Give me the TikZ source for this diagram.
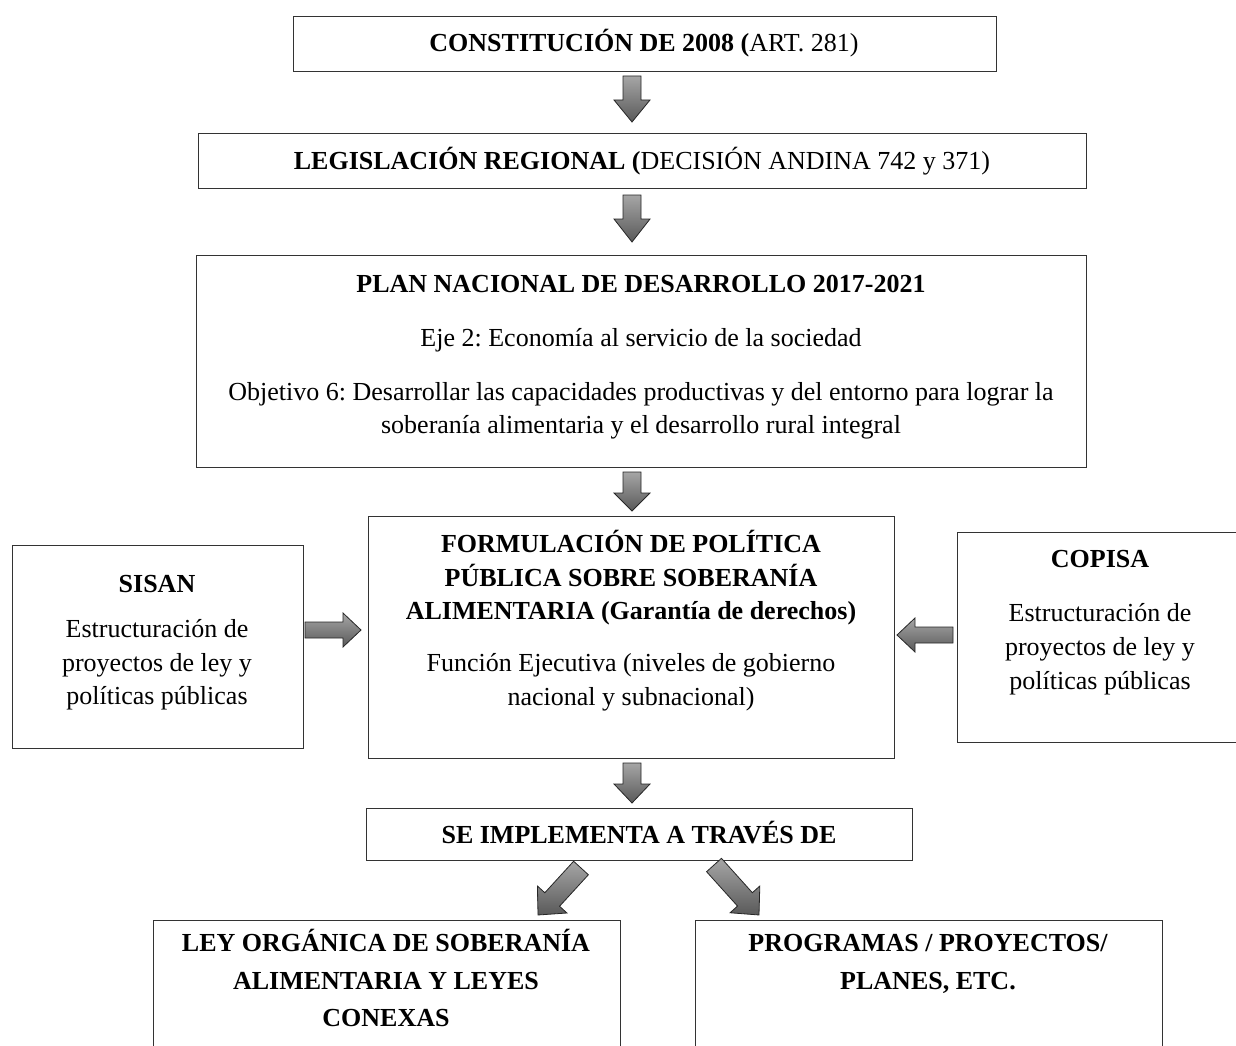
\documentclass[tikz,border=0pt]{standalone}
\usepackage{fontspec}
\setmainfont{Liberation Serif}
\usetikzlibrary{calc}
\frenchspacing
\tikzset{
  boxnode/.style={draw=black!80, line width=1.2pt, inner sep=0pt, anchor=north west},
  txt/.style={anchor=base, inner sep=0pt, font=\fontsize{26}{33}\selectfont},
  btxt/.style={anchor=base, inner sep=0pt, font=\fontsize{26}{33}\selectfont\bfseries},
  blockarrow/.style={draw=black!85, line width=0.8pt, top color=black!35, bottom color=black!65},
}
% fat block arrow from coordinate #1 to coordinate #2
% #3 shaft half width, #4 head half width, #5 head length (pt)
\newcommand{\fatarrow}[5]{%
  \path let \p1=(#1), \p2=(#2), \n1={atan2(\y2-\y1,\x2-\x1)}, \n2={veclen(\x2-\x1,\y2-\y1)} in
    \pgfextra{\xdef\faang{\n1}\xdef\falen{\n2}};
  \pgfmathsetmacro\falenv{\falen}%
  \pgfmathsetmacro\fahead{\falenv-#5}%
  \begin{scope}[shift={(#1)}, rotate=\faang]
    \path[blockarrow] (0pt,-#3pt) -- (\fahead pt,-#3pt) -- (\fahead pt,-#4pt) -- (\falenv pt,0pt)
      -- (\fahead pt,#4pt) -- (\fahead pt,#3pt) -- (0pt,#3pt) -- cycle;
  \end{scope}}
\begin{document}
\begin{tikzpicture}[x=1pt,y=-1pt]
\clip (0,0) rectangle (1236,1046);
\useasboundingbox (0,0) rectangle (1236,1046);

% boxes
\node[boxnode, minimum width=703pt, minimum height=55pt] (const) at (293,16) {};
\node[boxnode, minimum width=888pt, minimum height=55pt] (legis) at (198,133) {};
\node[boxnode, minimum width=890pt, minimum height=212pt] (plan) at (196,255) {};
\node[boxnode, minimum width=526pt, minimum height=242pt] (form) at (368,516) {};
\node[boxnode, minimum width=291pt, minimum height=203pt] (sisan) at (12,545) {};
\node[boxnode, minimum width=290pt, minimum height=210pt] (copisa) at (957,532) {};
\node[boxnode, minimum width=546pt, minimum height=52pt] (impl) at (366,808) {};
\node[boxnode, minimum width=467pt, minimum height=150pt] (ley) at (153,920) {};
\node[boxnode, minimum width=467pt, minimum height=150pt] (prog) at (695,920) {};

% texts
\node[txt] (constT) at (644,52) {\textbf{CONSTITUCIÓN DE 2008 (}ART. 281)};
\node[txt] (legisT) at (642,169) {\textbf{LEGISLACIÓN REGIONAL (}DECISIÓN ANDINA 742 y 371)};

\node[btxt] (planT1) at (641,292) {PLAN NACIONAL DE DESARROLLO 2017-2021};
\node[txt] (planT2) at (641,346) {Eje 2: Economía al servicio de la sociedad};
\node[txt] (planT3) at (641,400) {Objetivo 6: Desarrollar las capacidades productivas y del entorno para lograr la};
\node[txt] (planT4) at (641,433) {soberanía alimentaria y el desarrollo rural integral};

\node[btxt] (formT1) at (631,552) {FORMULACIÓN DE POLÍTICA};
\node[btxt] (formT2) at (631,586) {PÚBLICA SOBRE SOBERANÍA};
\node[btxt] (formT3) at (631,619) {ALIMENTARIA (Garantía de derechos)};
\node[txt] (formT4) at (631,671) {Función Ejecutiva (niveles de gobierno};
\node[txt] (formT5) at (631,705) {nacional y subnacional)};

\node[btxt] (sisanT1) at (157,592) {SISAN};
\node[txt] (sisanT2) at (157,637) {Estructuración de};
\node[txt] (sisanT3) at (157,671) {proyectos de ley y};
\node[txt] (sisanT4) at (157,704) {políticas públicas};

\node[btxt] (copisaT1) at (1100,567) {COPISA};
\node[txt] (copisaT2) at (1100,621) {Estructuración de};
\node[txt] (copisaT3) at (1100,655) {proyectos de ley y};
\node[txt] (copisaT4) at (1100,689) {políticas públicas};

\node[btxt] (implT) at (639,843) {SE IMPLEMENTA A TRAVÉS DE};

\node[btxt] (leyT1) at (386,951) {LEY ORGÁNICA DE SOBERANÍA};
\node[btxt] (leyT2) at (386,989) {ALIMENTARIA Y LEYES};
\node[btxt] (leyT3) at (386,1026) {CONEXAS};

\node[btxt] (progT1) at (928,951) {PROGRAMAS / PROYECTOS/};
\node[btxt] (progT2) at (928,989) {PLANES, ETC.};

% arrow end points
\coordinate (a1s) at (632,76);
\coordinate (a1e) at (632,122);
\coordinate (a2s) at (632,195);
\coordinate (a2e) at (632,242);
\coordinate (a3s) at (632,472);
\coordinate (a3e) at (632,511);
\coordinate (a4s) at (632,763);
\coordinate (a4e) at (632,803);
\coordinate (als) at (305,630);
\coordinate (ale) at (361,630);
\coordinate (ars) at (953,635);
\coordinate (are) at (897,635);
\coordinate (dls) at (581,868);
\coordinate (dle) at (538,915);
\coordinate (drs) at (714,865);
\coordinate (dre) at (759,915);

\fatarrow{a1s}{a1e}{9}{18}{22}
\fatarrow{a2s}{a2e}{9}{18}{23}
\fatarrow{a3s}{a3e}{9}{18}{18}
\fatarrow{a4s}{a4e}{9}{18}{19}
\fatarrow{als}{ale}{8}{17}{18}
\fatarrow{ars}{are}{8}{17}{18}
\fatarrow{dls}{dle}{10}{20}{21}
\fatarrow{drs}{dre}{10}{20}{21}
\end{tikzpicture}
\end{document}
